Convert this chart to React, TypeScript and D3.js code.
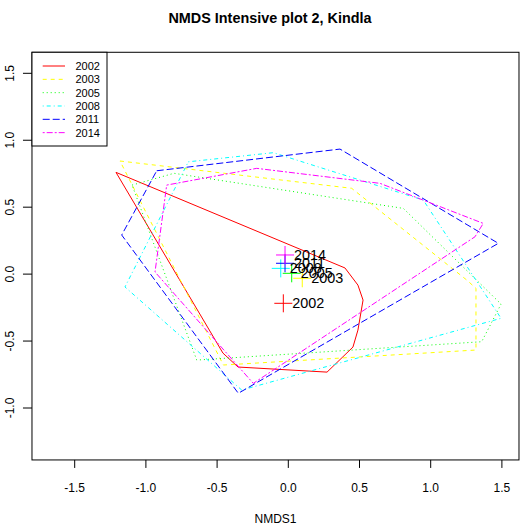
import React from "react";
import * as d3 from "d3";

const years = ["2002", "2003", "2005", "2008", "2011", "2014"];
const colors = ["#FF0000", "#FFFF00", "#00FF00", "#00FFFF", "#0000FF", "#FF00FF"];
const dashes = ["", "4,4", "1,3", "1,3,4,3", "7,3", "2,2,6,2"];

// hull vertices (NMDS1, NMDS2) per year
const hull2002: [number, number][] = [
  [-1.21, 0.76], [0.398, 0.046], [0.489, -0.082], [0.525, -0.194], [0.489, -0.418],
  [0.454, -0.545], [0.272, -0.732], [-0.353, -0.694], [-0.459, -0.59],
];
const hull2003: [number, number][] = [
  [-1.182, 0.845], [0.445, 0.641], [1.253, -0.044], [1.318, -0.106], [1.318, -0.567], [-0.456, -0.679],
];
const hull2005: [number, number][] = [
  [-1.097, 0.665], [-0.803, 0.753], [0.808, 0.491], [1.494, -0.224], [1.358, -0.505], [-0.643, -0.642],
];
const hull2008: [number, number][] = [
  [-0.702, 0.839], [-0.105, 0.907], [0.948, 0.553], [1.494, -0.33], [-0.327, -0.866], [-1.147, -0.096],
];
const hull2011: [number, number][] = [
  [-0.924, 0.772], [0.363, 0.934], [1.475, 0.23], [-0.351, -0.89], [-1.17, 0.292],
];
const hull2014: [number, number][] = [
  [-0.854, 0.665], [-0.222, 0.79], [0.644, 0.678], [1.369, 0.379], [1.311, 0.279], [-0.246, -0.816], [-0.936, 0.016],
];
const hulls = [hull2002, hull2003, hull2005, hull2008, hull2011, hull2014];

// centroids per year
const centroidX = [-0.035, 0.098, 0.024, -0.053, -0.023, -0.023];
const centroidY = [-0.218, -0.031, 0.006, 0.043, 0.081, 0.143];

const xTicks = [-1.5, -1.0, -0.5, 0.0, 0.5, 1.0, 1.5];
const yTicks = [-1.0, -0.5, 0.0, 0.5, 1.0, 1.5];
const xLim = [-1.8, 1.62];
const yLim = [-1.388, 1.657];

const title = "NMDS Intensive plot 2, Kindla";
const xLabel = "NMDS1";

export default function App() {
  const x = d3.scaleLinear().domain([-1.5, 1.5]).range([74.7, 501.9]);
  const y = d3.scaleLinear().domain([-1.0, 1.5]).range([408, 73.3]);
  const x0 = x(xLim[0]);
  const x1 = x(xLim[1]);
  const y0 = y(yLim[0]);
  const y1 = y(yLim[1]);
  const line = d3
    .line<[number, number]>()
    .x((d) => x(d[0]))
    .y((d) => y(d[1]))
    .curve(d3.curveLinearClosed);
  const font = "'Liberation Sans', Arial, Helvetica, sans-serif";
  const cs = 9;
  return (
    <svg
      width={520}
      height={526}
      style={{ position: "absolute", left: 0, top: 0, background: "#fff" }}
      fontFamily={font}
    >
      <rect x={0} y={0} width={520} height={526} fill="#fff" />
      <text x={270} y={23} textAnchor="middle" fontWeight="bold" fontSize={14.4}>
        {title}
      </text>
      <defs>
        <clipPath id="plotclip">
          <rect x={x0} y={y1} width={x1 - x0} height={y0 - y1} />
        </clipPath>
      </defs>
      <g clipPath="url(#plotclip)">
        {hulls.map((h, i) => (
          <path
            key={years[i]}
            d={line(h) || ""}
            fill="none"
            stroke={colors[i]}
            strokeWidth={1}
            strokeDasharray={dashes[i] || undefined}
          />
        ))}
        {years.map((yr, i) => {
          const cx = x(centroidX[i]);
          const cy = y(centroidY[i]);
          return (
            <g key={"c" + yr}>
              <line x1={cx - cs} x2={cx + cs} y1={cy} y2={cy} stroke={colors[i]} strokeWidth={1} />
              <line x1={cx} x2={cx} y1={cy - cs} y2={cy + cs} stroke={colors[i]} strokeWidth={1} />
            </g>
          );
        })}
        {years.map((yr, i) => (
          <text
            key={"t" + yr}
            x={x(centroidX[i]) + 9}
            y={y(centroidY[i])}
            dy="0.35em"
            fontSize={14.4}
            fill="#000"
          >
            {yr}
          </text>
        ))}
      </g>
      {/* plot box */}
      <rect x={x0} y={y1} width={x1 - x0} height={y0 - y1} fill="none" stroke="#000" strokeWidth={1} />
      {/* x axis */}
      {xTicks.map((t) => (
        <g key={"xt" + t}>
          <line x1={x(t)} x2={x(t)} y1={y0} y2={y0 + 8} stroke="#000" />
          <text x={x(t)} y={492} textAnchor="middle" fontSize={12}>
            {t.toFixed(1)}
          </text>
        </g>
      ))}
      <text x={(x0 + x1) / 2} y={523} textAnchor="middle" fontSize={12}>
        {xLabel}
      </text>
      {/* y axis */}
      {yTicks.map((t) => (
        <g key={"yt" + t}>
          <line x1={x0 - 9} x2={x0} y1={y(t)} y2={y(t)} stroke="#000" />
          <text
            transform={`translate(${14},${y(t)}) rotate(-90)`}
            textAnchor="middle"
            fontSize={12}
          >
            {t.toFixed(1)}
          </text>
        </g>
      ))}
      {/* legend */}
      <rect x={x0} y={y1} width={107 - x0} height={146 - y1} fill="#fff" stroke="#000" strokeWidth={1} />
      {years.map((yr, i) => {
        const ly = 66 + i * 13.33;
        return (
          <g key={"l" + yr}>
            <line
              x1={42.7}
              x2={65}
              y1={ly}
              y2={ly}
              stroke={colors[i]}
              strokeWidth={1}
              strokeDasharray={dashes[i] || undefined}
            />
            <text x={75.5} y={ly} dy="0.35em" fontSize={11}>
              {yr}
            </text>
          </g>
        );
      })}
    </svg>
  );
}
